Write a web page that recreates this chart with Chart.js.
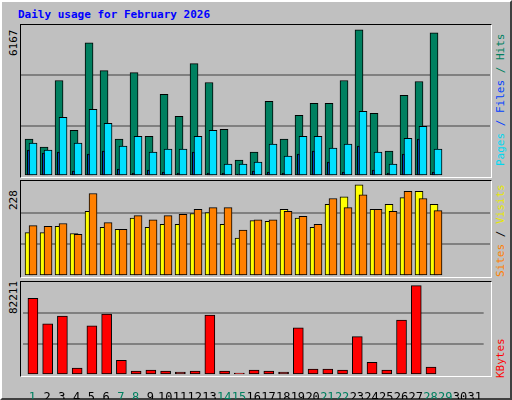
<!DOCTYPE html>
<html><head><meta charset="utf-8">
<script src="https://cdn.jsdelivr.net/npm/chart.js@4/dist/chart.umd.min.js"></script>
<style>
  body { margin:0; width:512px; height:400px; background:#c0c0c0; font-family:"DejaVu Sans Mono", monospace; overflow:hidden; }
  #frame { position:absolute; left:0; top:0; width:508px; height:396px; border-top:2px solid #fff; border-left:2px solid #fff; border-right:2px solid #404040; border-bottom:2px solid #404040; }
  .panel { position:absolute; left:20px; width:470px; border-top:1px solid #000; border-left:1px solid #000; border-right:1px solid #fff; border-bottom:1px solid #fff; }
  .panel canvas { position:absolute; left:0; top:0; }
  #title { position:absolute; left:18px; top:8px; color:#0000ff; font-weight:bold; font-size:11px; }
  .rot { position:absolute; transform:rotate(-90deg); transform-origin:left top; white-space:nowrap; font-size:11px; }
</style></head>
<body>
<div id="frame"></div>
<div id="title">Daily usage for February 2026</div>
<div class="panel" style="top:24px;height:152px"><canvas id="c1"></canvas></div>
<div class="panel" style="top:180px;height:96px"><canvas id="c2"></canvas></div>
<div class="panel" style="top:281px;height:94px"><canvas id="c3"></canvas></div>
<div class="rot" style="left:7px;top:56px">6167</div>
<div class="rot" style="left:7px;top:210px">228</div>
<div class="rot" style="left:7px;top:314px">82211</div>
<div class="rot" style="left:494px;top:166px"><span style="color:#00d8f0">Pages</span><span style="color:#0040ff"> / </span><span style="color:#0040ff">Files</span><span style="color:#008060"> / Hits</span></div>
<div class="rot" style="left:494px;top:277px"><span style="color:#ff8000">Sites</span><span style="color:#000"> / </span><span style="color:#e8e800">Visits</span></div>
<div class="rot" style="left:494px;top:378px;color:#ff0000">KBytes</div>
<script>
const days = Array.from({ length: 31 }, (_, i) => i + 1);
const weekend = [1, 7, 8, 14, 15, 21, 22, 28, 29];
const hits = [1503, 1178, 3899, 1868, 5443, 4305, 1503, 4224, 1625, 3331, 2437, 4590, 3818, 1909, 650, 975, 3046, 1503, 2478, 2965, 2965, 3899, 5971, 2559, 1015, 3290, 3859, 5849];
const files = [1340, 1056, 2396, 1340, 2721, 2153, 1218, 1625, 975, 1097, 1097, 1625, 1868, 487, 487, 569, 1300, 812, 1625, 1625, 1137, 1300, 2640, 975, 487, 1543, 2031, 1097];
const pages = [1056, 934, 975, 203, 894, 1015, 284, 122, 244, 162, 122, 975, 122, 122, 81, 203, 162, 122, 894, 1015, 569, 162, 1218, 244, 122, 894, 1503, 162];
const visits = [104, 104, 119, 102, 155, 117, 112, 139, 117, 124, 124, 150, 152, 124, 91, 133, 131, 160, 139, 117, 172, 190, 219, 160, 172, 188, 203, 172];
const sites = [121, 119, 126, 100, 198, 128, 112, 145, 135, 145, 148, 160, 164, 164, 110, 135, 135, 155, 143, 124, 186, 164, 195, 160, 155, 203, 186, 157];
const kbytes = [67740, 45160, 52110, 6080, 43420, 53840, 13030, 3470, 4340, 3470, 2600, 3470, 52980, 3470, 1740, 4340, 3470, 2600, 41690, 5210, 5210, 4340, 33870, 11290, 4340, 48640, 79030, 6950];
const maxHits = 6167, maxVisits = 228, maxKB = 82211;

const XMIN = 0.33, XMAX = 31.6;
const pts = (arr, off) => arr.map((v, i) => ({ x: i + 1 + off, y: v }));
const ds = (arr, off, color, w) => ({ data: pts(arr, off), backgroundColor: color, borderColor: '#000', borderWidth: 1, borderSkipped: false, barThickness: w, grouped: false });

function panel(id, w, h, max, datasets, labels) {
  const cv = document.getElementById(id);
  const fullH = labels ? h + 24 : h;
  cv.width = w; cv.height = fullH;
  cv.style.width = w + 'px'; cv.style.height = fullH + 'px';
  return new Chart(cv, {
    type: 'bar',
    data: { datasets },
    options: {
      responsive: false, animation: false,
      layout: { padding: 0 },
      plugins: { legend: { display: false }, tooltip: { enabled: false } },
      scales: {
        x: labels ? {
          type: 'linear', min: XMIN, max: XMAX, offset: false,
          border: { display: false }, grid: { display: false },
          afterBuildTicks: (s) => { s.ticks = days.map((d) => ({ value: d })); },
          afterFit: (s) => { s.height = 24; },
          ticks: {
            autoSkip: false, maxRotation: 0, padding: 8,
            font: { family: 'DejaVu Sans Mono', size: 12 },
            color: (c) => weekend.includes(c.tick.value) ? '#008060' : '#000',
            callback: (v) => String(v),
          },
        } : { type: 'linear', min: XMIN, max: XMAX, offset: false, display: false },
        y: {
          min: 0, max, border: { display: false },
          ticks: { display: false, stepSize: max / 3 },
          grid: { color: (c) => (c.tick.value > 0 && c.tick.value < max) ? '#808080' : 'rgba(0,0,0,0)', lineWidth: 2, drawTicks: false },
          afterFit: (s) => { s.width = 0; },
        },
      },
    },
  });
}

panel('c1', 469, 151, maxHits, [
  ds(pages, -0.18, '#0040ff', 2),
  ds(files, 0.133, '#00e0ff', 8),
  ds(hits, -0.133, '#008060', 8),
]);
panel('c2', 469, 95, maxVisits, [
  ds(sites, 0.133, '#ff8000', 8),
  ds(visits, -0.133, '#ffff00', 8),
]);
panel('c3', 469, 93, maxKB, [ds(kbytes, 0.03, '#ff0000', 10)], true);
</script>
</body></html>
